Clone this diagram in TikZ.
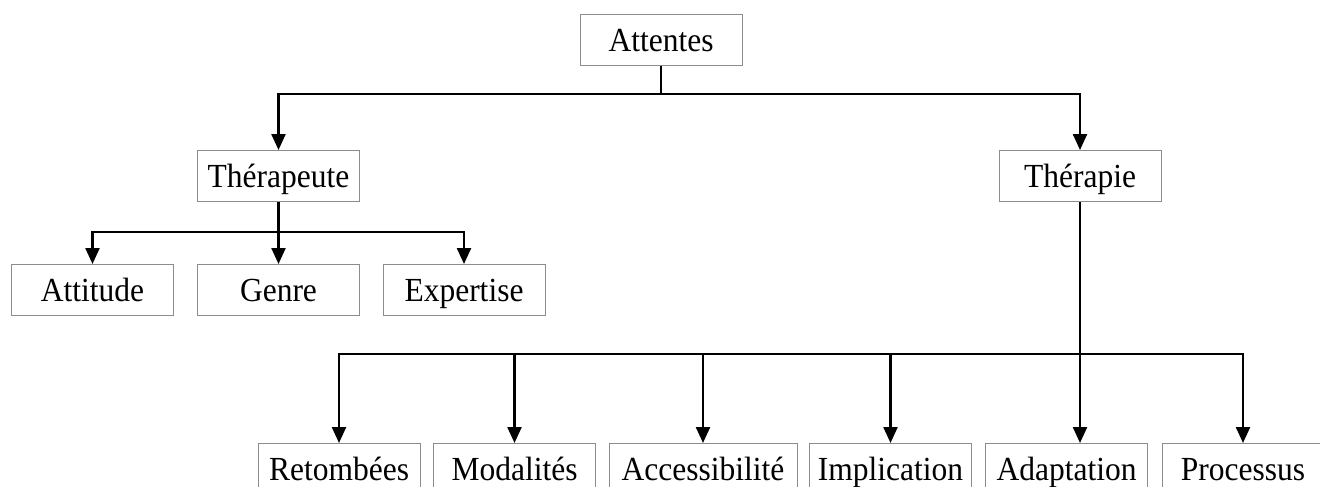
\documentclass[tikz,border=0pt]{standalone}
\usepackage{fontspec}
\setmainfont{Liberation Serif}
\usetikzlibrary{arrows.meta}
\definecolor{boxgray}{RGB}{140,140,140}
\newcommand{\tallbox}[1]{\scalebox{1}[1.07]{#1}}
\begin{document}
\begin{tikzpicture}[x=1pt,y=-1pt,
  box/.style={draw=boxgray, line width=1pt, minimum width=162pt, minimum height=51pt,
    inner sep=0pt, text height=23.5pt, text depth=0pt, anchor=north,
    font=\fontsize{31.5}{36}\selectfont},
  link/.style={line width=2.4pt, draw=black},
  arr/.style={link, -{Triangle[length=16pt,width=14pt]}}]
\useasboundingbox (0,0) rectangle (1320,487);
\clip (0,0) rectangle (1320,487);
% nodes
\node[box] (att) at (661,14) {\tallbox{Attentes}};
\node[box] (tpt) at (278.5,150) {\tallbox{Thérapeute}};
\node[box] (tpi) at (1080,150) {\tallbox{Thérapie}};
\node[box] (atti) at (92.5,264) {\tallbox{Attitude}};
\node[box] (gen) at (278.5,264) {\tallbox{Genre}};
\node[box] (exp) at (464,264) {\tallbox{Expertise}};
\node[box] (ret) at (339,443) {\tallbox{Retombées}};
\node[box] (mod) at (514.5,443) {\tallbox{Modalités}};
\node[box, minimum width=188pt] (acc) at (703,443) {\tallbox{Accessibilité}};
\node[box] (imp) at (890.5,443) {\tallbox{Implication}};
\node[box] (ada) at (1066.5,443) {\tallbox{Adaptation}};
\node[box] (pro) at (1243,443) {\tallbox{Processus}};
% connectors
\draw[arr] (att.south) -- ++(0,28) -| (tpt.north);
\draw[arr] (att.south) -- ++(0,28) -| (tpi.north);
\draw[arr] (tpt.south) -- ++(0,30) -| (atti.north);
\draw[arr] (tpt.south) -- (gen.north);
\draw[arr] (tpt.south) -- ++(0,30) -| (exp.north);
\draw[arr] (tpi.south) -- ++(0,152) -| (ret.north);
\draw[arr] (tpi.south) -- ++(0,152) -| (mod.north);
\draw[arr] (tpi.south) -- ++(0,152) -| (acc.north);
\draw[arr] (tpi.south) -- ++(0,152) -| (imp.north);
\draw[arr] (tpi.south) -- (tpi.south |- ada.north);
\draw[arr] (tpi.south) -- ++(0,152) -| (pro.north);
\end{tikzpicture}
\end{document}
